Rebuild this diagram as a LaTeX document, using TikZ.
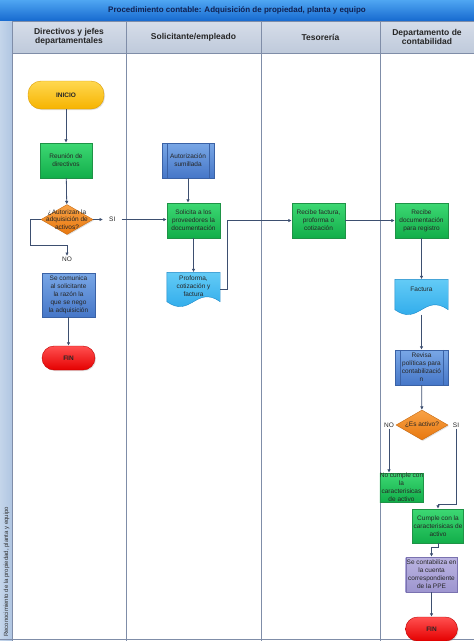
\documentclass[tikz,border=0pt]{standalone}
\usepackage{fontspec}
\setmainfont{Liberation Sans}
\usepackage{xcolor}
\usetikzlibrary{arrows.meta,positioning,calc,shapes.geometric,backgrounds,shadows}
\definecolor{titletop}{HTML}{4FA6F2}
\definecolor{titlebot}{HTML}{1669CF}
\definecolor{titletext}{HTML}{102050}
\definecolor{headtop}{HTML}{D6DDE9}
\definecolor{headbot}{HTML}{BFCADB}
\definecolor{laneline}{HTML}{7F8DA8}
\definecolor{striptop}{HTML}{C4D5EA}
\definecolor{stripbot}{HTML}{B0C6E2}
\definecolor{flowline}{HTML}{3D4F70}
\definecolor{greentop}{HTML}{3DD873}
\definecolor{greenbot}{HTML}{12AE4A}
\definecolor{greenline}{HTML}{1E9346}
\definecolor{bluetop}{HTML}{79A7E6}
\definecolor{bluebot}{HTML}{4677C8}
\definecolor{blueline}{HTML}{3A62A6}
\definecolor{doctop}{HTML}{63CBF6}
\definecolor{docbot}{HTML}{22A3E8}
\definecolor{docline}{HTML}{1A88C8}
\definecolor{orangetop}{HTML}{F8A246}
\definecolor{orangebot}{HTML}{E8780F}
\definecolor{orangeline}{HTML}{C86A10}
\definecolor{yellowtop}{HTML}{FFD850}
\definecolor{yellowbot}{HTML}{F6B300}
\definecolor{yellowline}{HTML}{DC9C00}
\definecolor{redtop}{HTML}{FF5050}
\definecolor{redbot}{HTML}{E50000}
\definecolor{redline}{HTML}{C00000}
\definecolor{purpletop}{HTML}{BBB4E2}
\definecolor{purplebot}{HTML}{9D95CF}
\definecolor{purpleline}{HTML}{7A72B0}
\newcommand{\docshape}[1]{%
  \path[draw=docline, line width=0.4pt, top color=doctop, bottom color=docbot]
    (#1.north west) -- (#1.north east) -- ([yshift=5pt]#1.south east)
    .. controls +(-24pt,17pt) and +(24pt,-17pt) .. ([yshift=5pt]#1.south west) -- cycle;}

\begin{document}
\begin{tikzpicture}[x=1pt, y=-1pt, >={Latex[length=3.5pt,width=3.5pt]},
  lane/.style={draw=laneline, line width=0.8pt},
  headcell/.style={rectangle, draw=laneline, line width=0.6pt, top color=headtop, bottom color=headbot,
    minimum height=32pt, inner sep=0pt, align=center, font=\fontsize{8.5}{9.5}\selectfont\bfseries, text=black!85},
  box/.style={rectangle, line width=0.4pt, minimum width=53pt, minimum height=35pt, inner sep=1pt,
    align=center, font=\fontsize{6.5}{8}\selectfont, text=black!85,
    drop shadow={opacity=0.25, shadow xshift=1pt, shadow yshift=-1pt}},
  greenbox/.style={box, draw=greenline, top color=greentop, bottom color=greenbot},
  bluebox/.style={box, draw=blueline, top color=bluetop, bottom color=bluebot},
  purplebox/.style={box, draw=purpleline, top color=purpletop, bottom color=purplebot},
  prebox/.style={bluebox, append after command={
    ([xshift=5pt]\tikzlastnode.north west) edge[draw=blueline, line width=0.4pt] ([xshift=5pt]\tikzlastnode.south west)
    ([xshift=-5pt]\tikzlastnode.north east) edge[draw=blueline, line width=0.4pt] ([xshift=-5pt]\tikzlastnode.south east)}},
  docbox/.style={rectangle, minimum width=53pt, inner sep=1pt, align=center,
    font=\fontsize{6.5}{8}\selectfont, text=black!85},
  startbox/.style={box, rounded corners=13pt, minimum height=28pt, draw=yellowline,
    top color=yellowtop, bottom color=yellowbot, font=\fontsize{6.5}{8}\selectfont\bfseries},
  endbox/.style={box, rounded corners=12pt, minimum height=24pt, draw=redline,
    top color=redtop, bottom color=redbot, font=\fontsize{6.5}{8}\selectfont\bfseries},
  decision/.style={diamond, draw=orangeline, line width=0.4pt, top color=orangetop, bottom color=orangebot,
    inner sep=0pt, minimum width=52pt, minimum height=30pt,
    drop shadow={opacity=0.25, shadow xshift=1pt, shadow yshift=-1pt}},
  dectext/.style={align=center, inner sep=0pt, font=\fontsize{6.5}{7.5}\selectfont, text=black!85},
  lbl/.style={inner sep=1pt, font=\fontsize{6.5}{8}\selectfont, text=black!85},
  flow/.style={->, draw=flowline, line width=0.8pt}]
  \useasboundingbox (0,0) rectangle (474,641);

  \fill[top color=titletop, bottom color=titlebot] (0,0) rectangle (474,21);
  \node[font=\fontsize{8}{9}\selectfont\bfseries, text=titletext] (title) at (237,10.5)
    {Procedimiento contable: Adquisición de propiedad, planta y equipo};
  \fill[left color=striptop, right color=stripbot] (0,21) rectangle (12,641);
  \node[headcell, minimum width=114pt] (h1) at (69,37) {Directivos y jefes\\departamentales};
  \node[headcell, minimum width=135pt] (h2) at (193.5,37) {Solicitante/empleado};
  \node[headcell, minimum width=119pt] (h3) at (320.5,37) {Tesorería};
  \node[headcell, minimum width=94pt] (h4) at (427,37) {Departamento de\\contabilidad};
  \foreach \x in {12,126,261,380}
    \draw[lane] (\x,21) -- (\x,641);
  \draw[lane] (0,639.5) -- (474,639.5);
  \node[rotate=90, anchor=west, inner sep=0pt, font=\fontsize{6}{7}\selectfont, text=black!80] (lanename)
    at (6.5,637) {Reconocimiento de la propiedad, planta y equipo};

  \node[startbox, minimum width=76pt] (inicio) at (66,95) {INICIO};
  \node[greenbox, minimum width=52pt] (reunion) at (66,160.5) {Reunión de\\directivos};
  \node[decision, label={[dectext]center:{¿Autorizan la\\adquisición de\\activos?}}] (autoriza) at (67,219.5) {};
  \node[lbl, anchor=west, inner xsep=6pt] (si1) at (103,219.5) {SI};
  \node[lbl] (no1) at (67,259.5) {NO};
  \coordinate (nobend) at (67,245);
  \node[bluebox, minimum height=44pt] (comunica) at (68.5,295)
    {Se comunica\\al solicitante\\la razón la\\que se nego\\la adquisición};
  \node[endbox] (fin1) at (68.5,358) {FIN};

  \node[prebox, minimum width=52pt] (sumillada) at (188,160.5) {Autorización\\sumillada};
  \node[greenbox] (solicita) at (193.5,220.5) {Solicita a los\\proveedores la\\documentación};
  \node[docbox, minimum height=34pt, text depth=6pt] (proforma) at (193.5,289.5) {Proforma,\\cotización y\\factura};

  \node[greenbox] (recibef) at (318.5,220.5) {Recibe factura,\\proforma o\\cotización};

  \node[greenbox] (recibed) at (421.5,220.5) {Recibe\\documentación\\para registro};
  \node[docbox, minimum height=35pt] (factura) at (421.5,297) {Factura\\[8pt]};
  \node[prebox] (revisa) at (421.5,367.5) {Revisa\\políticas para\\contabilizació\\n};
  \node[decision, label={[dectext]center:{¿Es activo?}}] (esactivo) at (422,425) {};
  \node[lbl] (no2) at (389,425) {NO};
  \node[lbl] (si2) at (456,425) {SI};
  \node[greenbox, minimum width=43pt, minimum height=29pt, inner sep=0pt] (nocumple) at (401.5,487.5)
    {No cumple con\\la\\caracterisicas\\de activo};
  \coordinate (sibend) at (438,504);
  \node[greenbox, minimum width=50pt, minimum height=34pt] (cumple) at (438,526)
    {Cumple con la\\caracterisicas de\\activo};
  \node[purplebox, minimum width=51pt] (contabiliza) at (431.5,574.5)
    {Se contabiliza en\\la cuenta\\correspondiente\\de la PPE};
  \node[endbox, minimum width=52pt] (fin2) at (431.5,629) {FIN};

  \begin{scope}[on background layer]
    \docshape{proforma}
    \docshape{factura}
  \end{scope}

  \draw[flow] (inicio) -- (reunion);
  \draw[flow] (reunion) -- (autoriza);
  \draw[flow] (autoriza.east) -- (si1.west);
  \draw[flow] (si1.east) -- (si1.east -| solicita.west);
  \draw[flow] (autoriza.west) -- ++(-10,0) |- (nobend) -- (no1.north);
  \draw[flow] (comunica) -- (fin1);
  \draw[flow] (sumillada.south) -- (sumillada.south |- solicita.north);
  \draw[flow] (solicita) -- (proforma);
  \draw[flow] (proforma.east) -- ++(7,0) |- (recibef.west);
  \draw[flow] (recibef) -- (recibed);
  \draw[flow] (recibed) -- (factura);
  \draw[flow] (factura) -- (revisa);
  \draw[flow] (revisa) -- (esactivo);
  \draw[flow] (no2.south) -- (no2.south |- nocumple.north);
  \draw[flow] (si2.south) |- (sibend) -- (cumple.north);
  \draw[flow] (cumple.south) -- ++(0,4) -| (contabiliza.north);
  \draw[flow] (contabiliza) -- (fin2);
\end{tikzpicture}
\end{document}
